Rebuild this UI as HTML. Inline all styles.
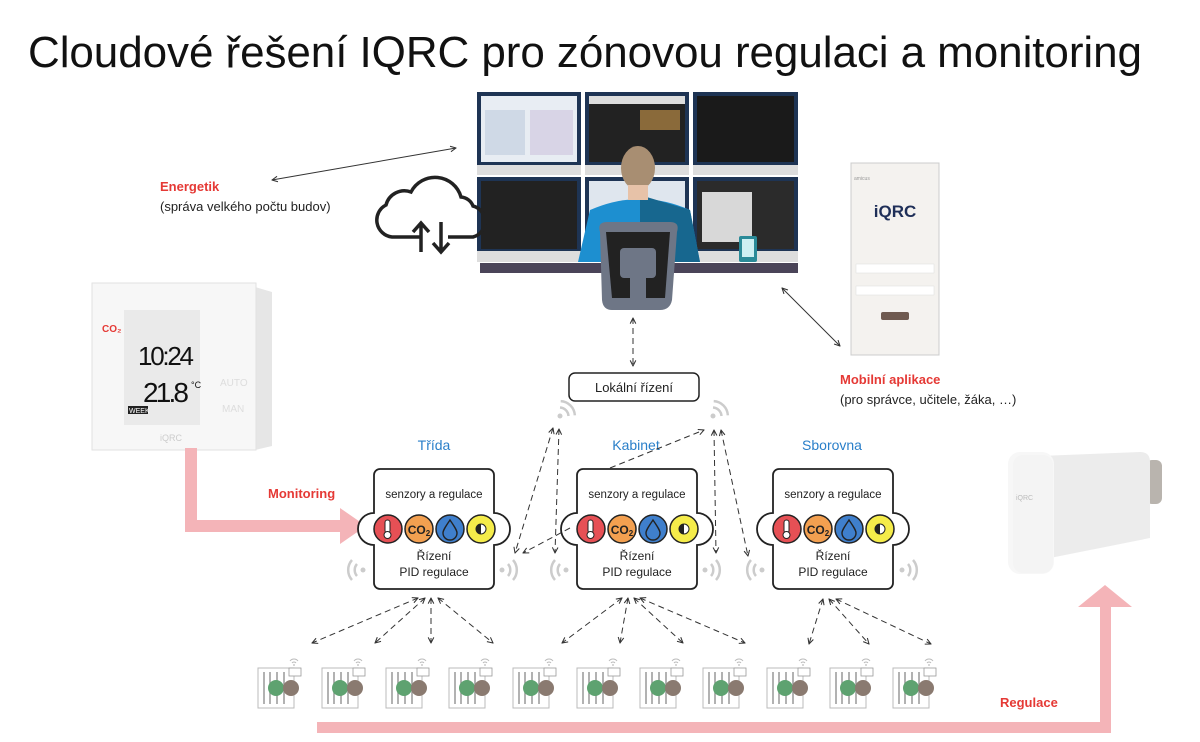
<!DOCTYPE html>
<html><head><meta charset="utf-8"><style>
html,body{margin:0;padding:0;background:#fff;width:1200px;height:742px;overflow:hidden}
svg{display:block}
text{font-family:"Liberation Sans",sans-serif}
</style></head><body>
<svg width="1200" height="742" viewBox="0 0 1200 742" xmlns="http://www.w3.org/2000/svg">
<defs>
<marker id="ah" viewBox="0 0 10 10" refX="9" refY="5" markerWidth="7" markerHeight="7" orient="auto-start-reverse"><path d="M1,1 L9,5 L1,9" fill="none" stroke="#333" stroke-width="1.5"/></marker>
<g id="rad">
<rect x="0" y="2" width="36" height="40" fill="#fff" stroke="#bbb" stroke-width="1"/>
<line x1="6" y1="6" x2="6" y2="38" stroke="#999" stroke-width="1.5"/>
<line x1="12" y1="6" x2="12" y2="38" stroke="#999" stroke-width="1.5"/>
<line x1="19" y1="6" x2="19" y2="38" stroke="#999" stroke-width="1.5"/>
<line x1="26" y1="6" x2="26" y2="38" stroke="#999" stroke-width="1.5"/>
<rect x="31" y="2" width="12" height="8" fill="#fff" stroke="#999" stroke-width="0.8"/>
<circle cx="18" cy="22" r="8" fill="#5ea270"/>
<circle cx="33" cy="22" r="8" fill="#8a7a70"/>
<path d="M32,-5 a5,5 0 0 1 8,0 M34,-3 a2.5,2.5 0 0 1 4,0" fill="none" stroke="#bbb" stroke-width="1"/>
<circle cx="36" cy="-1" r="0.9" fill="#bbb"/>
</g>
<g id="wl"><circle cx="0" cy="0" r="2.5" fill="#ccc"/><path d="M-6,-6 a9,9 0 0 0 0,12 M-11,-10 a15,15 0 0 0 0,20" fill="none" stroke="#ccc" stroke-width="2.5"/></g>
<g id="wr"><circle cx="0" cy="0" r="2.5" fill="#ccc"/><path d="M6,-6 a9,9 0 0 1 0,12 M11,-10 a15,15 0 0 1 0,20" fill="none" stroke="#ccc" stroke-width="2.5"/></g>
<g id="box">
<path d="M6,0 H114 a6,6 0 0 1 6,6 V44 a16,16 0 0 1 0,32 V114 a6,6 0 0 1 -6,6 H6 a6,6 0 0 1 -6,-6 V76 a16,16 0 0 1 0,-32 V6 a6,6 0 0 1 6,-6 Z" fill="#fff" stroke="#222" stroke-width="1.8"/>
<circle cx="14" cy="60" r="14" fill="#e65055" stroke="#222" stroke-width="1.5"/>
<rect x="11" y="51" width="5" height="13" rx="2.5" fill="#fff" stroke="#222"/><circle cx="13.5" cy="66" r="3.5" fill="#fff" stroke="#222"/>
<circle cx="45" cy="60" r="14" fill="#f3a050" stroke="#222" stroke-width="1.5"/>
<text x="45" y="65" font-size="12" font-weight="bold" text-anchor="middle" fill="#222">CO<tspan font-size="8" dy="2">2</tspan></text>
<circle cx="76" cy="60" r="14" fill="#3f7fcc" stroke="#222" stroke-width="1.5"/>
<path d="M76,51 C80,57 83,61 83,64 a7,7 0 0 1 -14,0 C69,61 72,57 76,51Z" fill="none" stroke="#222" stroke-width="1.4"/>
<circle cx="107" cy="60" r="14" fill="#f5ec4a" stroke="#222" stroke-width="1.5"/>
<circle cx="107" cy="60" r="5" fill="#fff" stroke="#222"/><path d="M107,55 a5,5 0 0 0 0,10Z" fill="#222"/>
<text x="60" y="29" font-size="11.5" text-anchor="middle" fill="#222">senzory a regulace</text>
<text x="60" y="91" font-size="12" text-anchor="middle" fill="#222">Řízení</text>
<text x="60" y="107" font-size="12" text-anchor="middle" fill="#222">PID regulace</text>
</g>
</defs>

<text x="28" y="67" font-size="44" fill="#111" textLength="1114">Cloudové řešení IQRC pro zónovou regulaci a monitoring</text>

<!-- monitors -->
<g>
<rect x="477" y="92" width="104" height="83" fill="#1e3454"/><rect x="481" y="96" width="96" height="66" fill="#e8edf3"/><rect x="485" y="110" width="40" height="45" fill="#cfd9e6"/><rect x="530" y="110" width="43" height="45" fill="#d8d4e6"/><rect x="477" y="165" width="104" height="10" fill="#ddd"/>
<rect x="585" y="92" width="104" height="83" fill="#1e3454"/><rect x="589" y="96" width="96" height="66" fill="#222"/><rect x="589" y="96" width="96" height="8" fill="#ddd"/><rect x="640" y="110" width="40" height="20" fill="#8a6a3a"/><rect x="585" y="165" width="104" height="10" fill="#ddd"/>
<rect x="693" y="92" width="105" height="83" fill="#1e3454"/><rect x="697" y="96" width="97" height="66" fill="#1a1a1a"/><rect x="693" y="165" width="105" height="10" fill="#ddd"/>
<rect x="477" y="177" width="104" height="85" fill="#1e3454"/><rect x="481" y="181" width="96" height="68" fill="#222"/><rect x="477" y="251" width="104" height="11" fill="#ddd"/>
<rect x="585" y="177" width="104" height="85" fill="#1e3454"/><rect x="589" y="181" width="96" height="68" fill="#dfe6ee"/><rect x="585" y="251" width="104" height="11" fill="#ddd"/>
<rect x="693" y="177" width="105" height="85" fill="#1e3454"/><rect x="697" y="181" width="97" height="68" fill="#2b2b2b"/><rect x="702" y="192" width="50" height="50" fill="#d8d8d8"/><rect x="693" y="251" width="105" height="11" fill="#ddd"/>
<rect x="480" y="263" width="318" height="10" fill="#4a4458"/>
<rect x="739" y="236" width="18" height="26" rx="2" fill="#2a8a98"/><rect x="742" y="239" width="12" height="18" fill="#cdeff2"/>
<!-- person -->
<path d="M590,210 Q640,188 690,210 L700,262 L578,262 Z" fill="#1d8fd0"/>
<path d="M640,195 L690,210 L700,262 L640,262Z" fill="#17678f"/>
<ellipse cx="638" cy="168" rx="17" ry="22" fill="#a88e72"/>
<rect x="628" y="185" width="20" height="15" fill="#e7c2a8"/>
<path d="M600,232 Q597,222 607,222 L670,222 Q680,222 677,232 L672,300 Q670,310 660,310 L612,310 Q603,310 602,300 Z" fill="#6e7686"/>
<path d="M606,232 L670,232 L665,298 L612,298Z" fill="#222"/>
<rect x="620" y="248" width="36" height="30" rx="4" fill="#6e7686"/><rect x="630" y="278" width="16" height="22" fill="#6e7686"/>
</g>
<!-- cloud -->
<path d="M420,237 H392 a17,17 0 0 1 -6,-32 a19,19 0 0 1 25,-13 a27,27 0 0 1 50,5 a14,14 0 0 1 12,9 a16,16 0 0 1 0,31 H448" fill="none" stroke="#222" stroke-width="3.5"/>
<path d="M421,252 V224 M413,232 L421,223 L429,232 M441,222 V251 M433,243 L441,252 L449,243" fill="none" stroke="#222" stroke-width="3.5"/>

<!-- phone -->
<rect x="851" y="163" width="88" height="192" fill="#f4f2ef" stroke="#ccc"/>
<text x="854" y="180" font-size="5" fill="#999">amicus</text>
<text x="895" y="217" font-size="17" font-weight="bold" text-anchor="middle" fill="#1f2f58">iQRC</text>
<rect x="856" y="264" width="78" height="9" fill="#fff" stroke="#ddd" stroke-width="0.5"/>
<rect x="856" y="286" width="78" height="9" fill="#fff" stroke="#ddd" stroke-width="0.5"/>
<rect x="881" y="312" width="28" height="8" rx="2" fill="#6f5a50"/>

<!-- thermostat -->
<path d="M255,287 L272,292 L272,446 L255,450Z" fill="#e6e6e6"/>
<rect x="92" y="283" width="164" height="167" fill="#f7f7f7" stroke="#e2e2e2"/>
<rect x="124" y="310" width="76" height="115" fill="#eaeaea"/>
<text x="102" y="332" font-size="10" font-weight="bold" fill="#e53935">CO₂</text>
<text x="138" y="365" font-size="26" fill="#111" textLength="56">10:24</text>
<text x="143" y="402" font-size="28" fill="#111" textLength="46">21.8</text><text x="191" y="388" font-size="9" fill="#111">°C</text>
<rect x="128" y="406" width="20" height="8" fill="#222"/><text x="129" y="413" font-size="7" fill="#fff">WEEK</text>
<text x="220" y="386" font-size="10" fill="#ddd">AUTO</text><text x="222" y="412" font-size="10" fill="#ddd">MAN</text>
<text x="160" y="441" font-size="9" fill="#ccc">iQRC</text>

<!-- right valve head -->
<rect x="1146" y="460" width="16" height="44" rx="6" fill="#b9b4ae"/>
<path d="M1040,456 L1140,452 Q1150,452 1150,462 L1150,538 L1050,558 Z" fill="#ececec"/>
<rect x="1008" y="452" width="46" height="122" rx="12" fill="#f7f7f7"/>
<rect x="1013" y="455" width="40" height="118" rx="10" fill="#f4f4f4"/>
<text x="1016" y="500" font-size="7" fill="#bbb">iQRC</text>

<!-- pink arrows -->
<path d="M185,448 H197 V520 H340 V508 L366,526 L340,544 V532 H185Z" fill="#f4b4b8"/>
<path d="M317,722 H1100 V607 H1078 L1105,585 L1132,607 H1111 V733 H317Z" fill="#f4b4b8"/>

<!-- labels -->
<text x="160" y="191" font-size="13" font-weight="bold" fill="#e53935">Energetik</text>
<text x="160" y="211" font-size="13" fill="#222">(správa velkého počtu budov)</text>
<text x="268" y="498" font-size="13" font-weight="bold" fill="#e53935">Monitoring</text>
<text x="840" y="384" font-size="13" font-weight="bold" fill="#e53935">Mobilní aplikace</text>
<text x="840" y="404" font-size="13" fill="#222">(pro správce, učitele, žáka, …)</text>
<text x="1000" y="707" font-size="13" font-weight="bold" fill="#e53935">Regulace</text>

<!-- solid arrows -->
<line x1="272" y1="180" x2="456" y2="148" stroke="#333" stroke-width="1" marker-start="url(#ah)" marker-end="url(#ah)"/>
<line x1="782" y1="288" x2="840" y2="346" stroke="#333" stroke-width="1" marker-start="url(#ah)" marker-end="url(#ah)"/>

<!-- local box -->
<rect x="569" y="373" width="130" height="28" rx="6" fill="#fff" stroke="#222" stroke-width="1.5"/>
<text x="634" y="392" font-size="13" text-anchor="middle" fill="#222">Lokální řízení</text>

<text x="434" y="450" font-size="14" text-anchor="middle" fill="#2a7fc9">Třída</text>
<text x="636" y="450" font-size="14" text-anchor="middle" fill="#2a7fc9">Kabinet</text>
<text x="832" y="450" font-size="14" text-anchor="middle" fill="#2a7fc9">Sborovna</text>

<use href="#box" x="374" y="469"/>
<use href="#box" x="577" y="469"/>
<use href="#box" x="773" y="469"/>

<use href="#wl" x="363" y="570"/><use href="#wr" x="502" y="570"/>
<use href="#wl" x="566" y="570"/><use href="#wr" x="705" y="570"/>
<use href="#wl" x="762" y="570"/><use href="#wr" x="902" y="570"/>
<use href="#wr" x="560" y="416" transform="rotate(-45 560 416)"/>
<use href="#wr" x="713" y="416" transform="rotate(-45 713 416)"/>

<!-- dashed arrows -->
<g stroke="#333" stroke-width="1" stroke-dasharray="6,4" fill="none" marker-start="url(#ah)" marker-end="url(#ah)">
<line x1="633" y1="318" x2="633" y2="366"/>
<line x1="553" y1="428" x2="515" y2="553"/>
<line x1="559" y1="429" x2="555" y2="553"/>
<line x1="570" y1="528" x2="523" y2="553" marker-start="none"/>
<line x1="610" y1="468" x2="704" y2="430" marker-start="none"/>
<line x1="714" y1="430" x2="716" y2="553"/>
<line x1="721" y1="430" x2="748" y2="556"/>
<line x1="418" y1="598" x2="312" y2="643"/>
<line x1="425" y1="598" x2="375" y2="643"/>
<line x1="431" y1="598" x2="431" y2="643"/>
<line x1="438" y1="598" x2="493" y2="643"/>
<line x1="622" y1="598" x2="562" y2="643"/>
<line x1="628" y1="598" x2="620" y2="643"/>
<line x1="634" y1="598" x2="683" y2="643"/>
<line x1="640" y1="598" x2="745" y2="643"/>
<line x1="823" y1="599" x2="809" y2="644"/>
<line x1="829" y1="599" x2="869" y2="644"/>
<line x1="836" y1="599" x2="931" y2="644"/>
</g>

<!-- radiators -->
<use href="#rad" x="258" y="666"/><use href="#rad" x="322" y="666"/><use href="#rad" x="386" y="666"/><use href="#rad" x="449" y="666"/>
<use href="#rad" x="513" y="666"/><use href="#rad" x="577" y="666"/><use href="#rad" x="640" y="666"/><use href="#rad" x="703" y="666"/>
<use href="#rad" x="767" y="666"/><use href="#rad" x="830" y="666"/><use href="#rad" x="893" y="666"/>
</svg>
</body></html>
